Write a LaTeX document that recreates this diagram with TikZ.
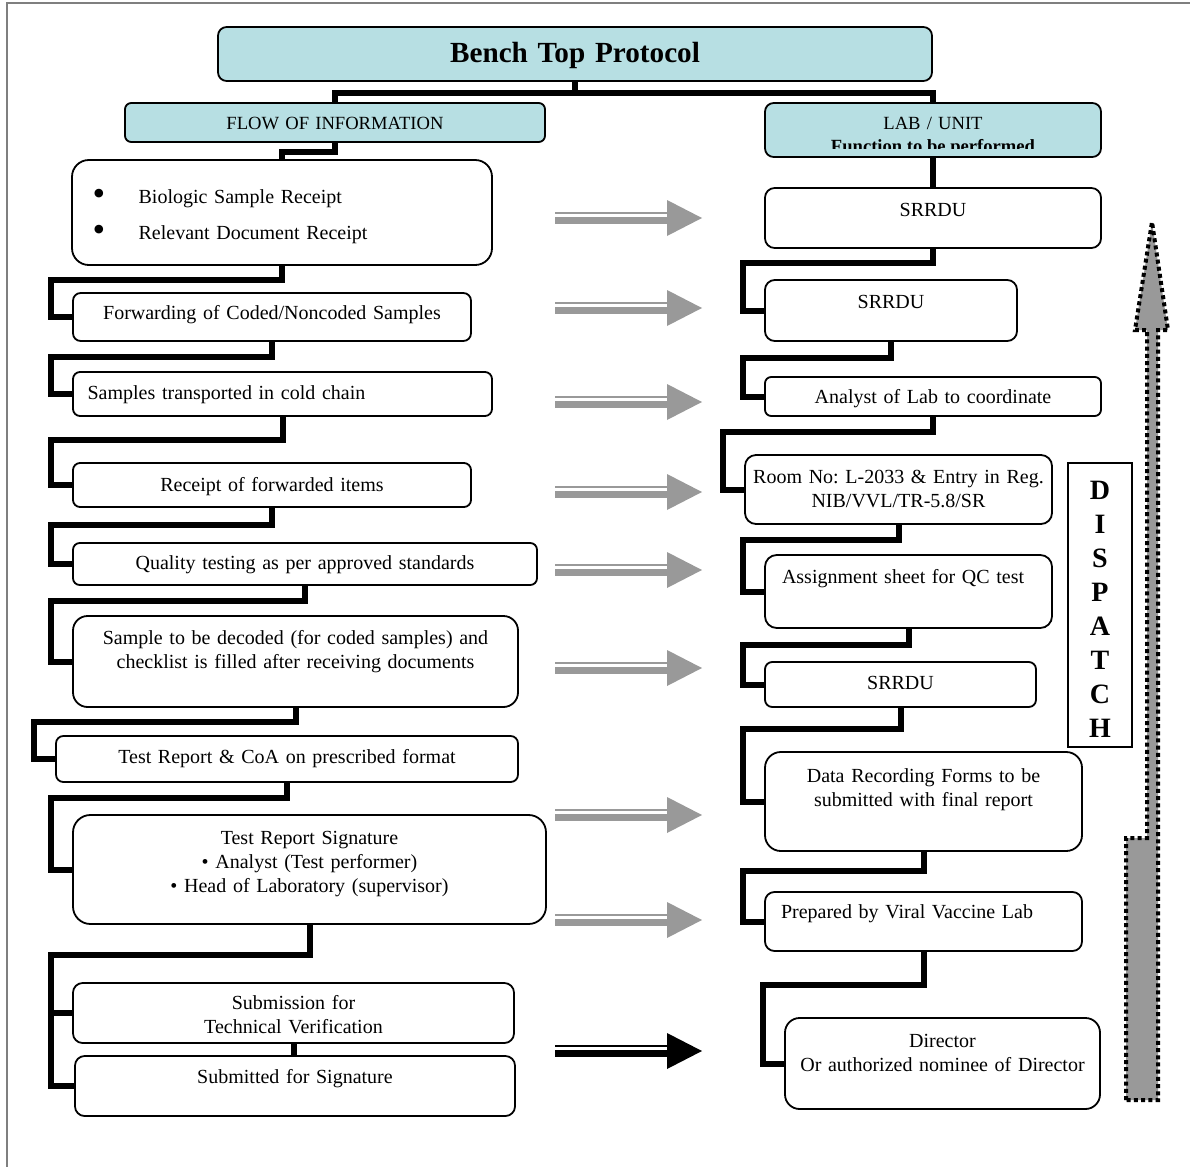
\documentclass[tikz,border=0pt]{standalone}
\usepackage{fontspec}
\setmainfont{Liberation Serif}
\frenchspacing
\usetikzlibrary{calc}
\definecolor{headfill}{HTML}{B7DFE3}
\definecolor{flowgray}{HTML}{999999}
\definecolor{framegray}{HTML}{7F7F7F}
\tikzset{
  box/.style={draw, fill=white, line width=0.9pt, anchor=north west, inner sep=0pt, outer sep=0pt,
              align=center, font=\fontsize{10}{12}\selectfont},
  head/.style={fill=headfill},
  link/.style={line width=3pt, line join=miter, line cap=butt},
}
% box from its corners (px): [style]{name}{left}{top}{right}{bottom}{first baseline}{text}
\newcommand{\tbox}[8][]{%
  \pgfmathsetmacro{\boxw}{(#5-#3)/2}%
  \pgfmathsetmacro{\boxht}{(#7-#4)/2}%
  \pgfmathsetmacro{\boxdp}{(#6-#7)/2}%
  \pgfmathsetmacro{\boxrc}{min(9,(#6-#4)*0.08)}%
  \node[box, rounded corners=\boxrc pt, text width=\boxw pt, text height=\boxht pt, text depth=\boxdp pt, #1]
    (#2) at (#3,#4) {#8};
}
\newcommand{\elbow}[3]{\draw[link] (#1.south) -- ++(0,#3) -| ($(#2.west)+(-22,0)$) -- (#2.west);}
\newcommand{\dblarrow}[2]{%
  \fill[#2] (555,#1-6) rectangle (667,#1-4);
  \fill[#2] (555,#1-1) rectangle (667,#1+6);
  \fill[#2] (667,#1-18) -- (702,#1) -- (667,#1+18) -- cycle;
}
\newcommand{\bigdot}{\raisebox{-1pt}{\fontsize{18}{12}\selectfont\textbullet}}

\begin{document}
\begin{tikzpicture}[x=0.5pt, y=-0.5pt]
\useasboundingbox (0,0) rectangle (1190,1167);

% ---------------- frame ----------------
\draw[framegray, line width=1pt] (7,1167) -- (7,3) -- (1190,3);

% ---------------- headers ----------------
\tbox[head, font=\bfseries\fontsize{14.6}{17}\selectfont]{title}{218}{27}{932}{81}{62}{Bench Top Protocol}
\tbox[head, font=\fontsize{9.3}{11}\selectfont]{flow}{125}{103}{545}{142}{129}{FLOW OF INFORMATION}
\tbox[head, font=\fontsize{9.3}{11}\selectfont]{lab}{765}{103}{1101}{157}{129}{LAB / UNIT}
\begin{scope}
  \clip (765,103) rectangle (1101,148);
  \node[font=\bfseries\fontsize{9.3}{11}\selectfont, anchor=base, inner sep=0pt] (labfn) at (933,152) {Function to be performed};
\end{scope}

% ---------------- flow of information ----------------
\tbox[align=left]{l1}{72}{160}{492}{265}{203}{%
  \hspace*{10.3pt}\makebox[23pt][l]{\bigdot}Biologic Sample Receipt\\[6pt]%
  \hspace*{10.3pt}\makebox[23pt][l]{\bigdot}Relevant Document Receipt}
\tbox{l2}{73}{293}{471}{341}{319}{Forwarding of Coded/Noncoded Samples}
\tbox[align=left]{l3}{73}{372}{492}{416}{399}{\hspace*{7.3pt}Samples transported in cold chain}
\tbox{l4}{73}{463}{471}{507}{491}{Receipt of forwarded items}
\tbox{l5}{73}{543}{537}{585}{569}{Quality testing as per approved standards}
\tbox{l6}{73}{616}{518}{707}{644}{Sample to be decoded (for coded samples) and\\checklist is filled after receiving documents}
\tbox{l7}{56}{736}{518}{782}{763}{Test Report \& CoA on prescribed format}
\tbox{l8}{73}{815}{546}{924}{844}{Test Report Signature\\\textbullet{} Analyst (Test performer)\\\textbullet{} Head of Laboratory (supervisor)}
\tbox{l9}{73}{983}{514}{1043}{1009}{Submission for\\Technical Verification}
\tbox{l10}{75}{1056}{515}{1116}{1083}{Submitted for Signature}

% ---------------- lab / unit ----------------
\tbox{r1}{765}{188}{1101}{248}{216}{SRRDU}
\tbox{r2}{765}{280}{1017}{341}{308}{SRRDU}
\tbox{r3}{765}{377}{1101}{416}{403}{Analyst of Lab to coordinate}
\tbox{r4}{745}{455}{1052}{524}{483}{Room No: L-2033 \& Entry in Reg.\\NIB/VVL/TR-5.8/SR}
\tbox[align=left]{r5}{765}{555}{1052}{628}{583}{\hspace*{8.5pt}Assignment sheet for QC test}
\tbox{r6}{765}{662}{1036}{707}{689}{SRRDU}
\tbox{r7}{765}{752}{1082}{851}{782}{Data Recording Forms to be\\submitted with final report}
\tbox[align=left]{r8}{765}{892}{1082}{951}{918}{\hspace*{8pt}Prepared by Viral Vaccine Lab}
\tbox{r9}{785}{1018}{1100}{1109}{1047}{Director\\Or authorized nominee of Director}

% ---------------- dispatch ----------------
\node[draw, line width=0.8pt, inner sep=0pt, outer sep=0pt, anchor=north west, text width=32pt, align=center,
      text height=18pt, text depth=124pt, font=\bfseries\fontsize{14}{17}\selectfont] (dispatch) at (1068,463)
  {D\\I\\S\\P\\A\\T\\C\\H};
\path[fill=flowgray, draw=black, line width=2pt, dash pattern=on 2pt off 1.6pt]
  (1126,1100) -- (1126,838) -- (1147,838) -- (1147,330) -- (1135,330) -- (1152,222)
  -- (1168,330) -- (1158,330) -- (1158,1100) -- cycle;

% ---------------- connectors ----------------
\coordinate (hub) at ($(title.south)+(0,12)$);
\draw[link] (title.south) -- (hub);
\draw[link] (flow.north) |- (hub) -| (lab.north);
\draw[link] (flow.south) -- ++(0,10) -| (l1.north);
\draw[link] (lab.south) -- (r1.north);

\elbow{l1}{l2}{15}
\elbow{l2}{l3}{16}
\elbow{l3}{l4}{24}
\elbow{l4}{l5}{18}
\elbow{l5}{l6}{16}
\elbow{l6}{l7}{15}
\elbow{l7}{l8}{16}
\elbow{l8}{l9}{31}
\draw[link] ($(l9.west)+(-22,0)$) |- (l10.west);
\draw[link] (l9.south) -- (l9.south |- l10.north);

\elbow{r1}{r2}{15}
\elbow{r2}{r3}{17}
\elbow{r3}{r4}{16}
\elbow{r4}{r5}{16}
\elbow{r5}{r6}{17}
\elbow{r6}{r7}{22}
\elbow{r7}{r8}{20}
\elbow{r8}{r9}{34}

% ---------------- arrows between columns ----------------
\foreach \ay in {218,308,402,492,570,668,815,920}{
  \dblarrow{\ay}{flowgray}
}
\dblarrow{1051}{black}

\end{tikzpicture}
\end{document}
